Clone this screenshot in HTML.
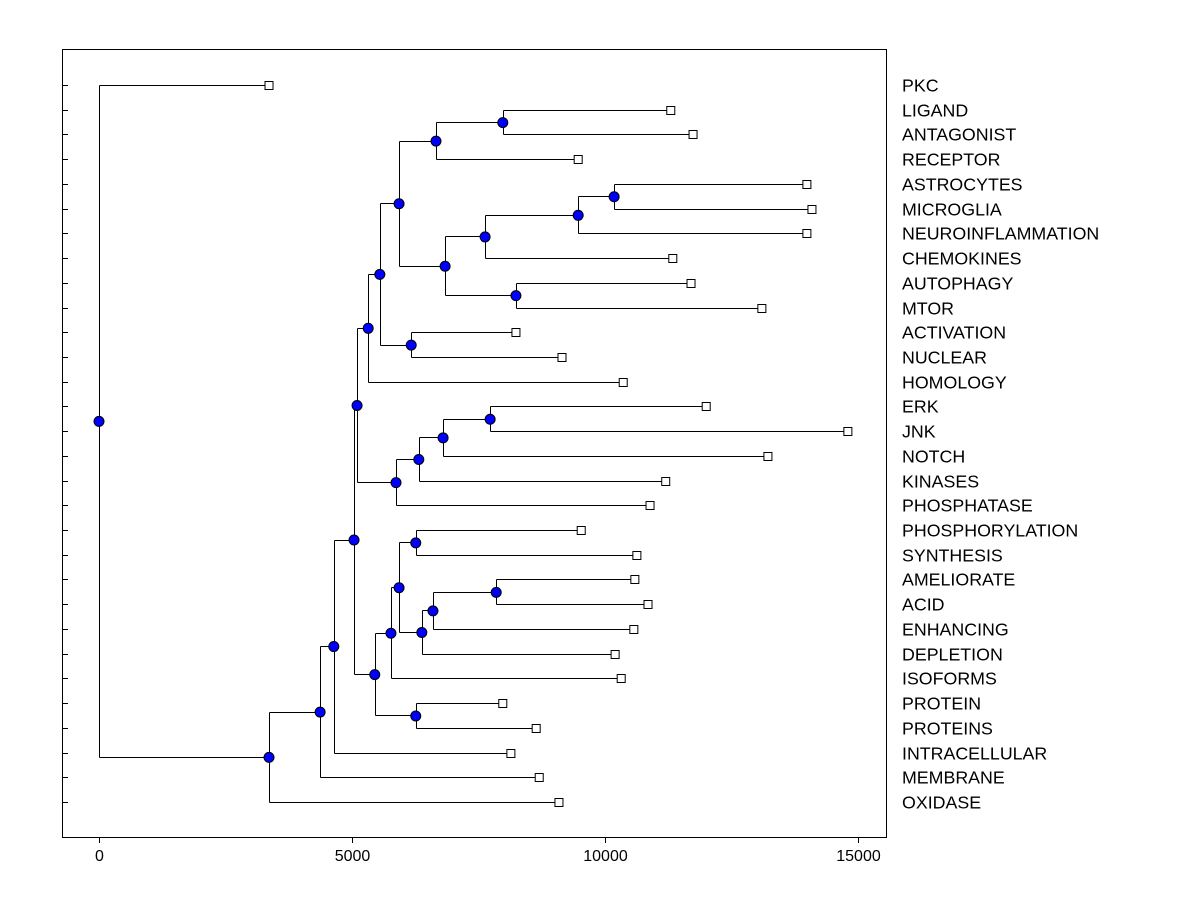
<!DOCTYPE html>
<html><head><meta charset="utf-8"><style>
body{margin:0;background:#fff}
svg{display:block}
text{font-family:"Liberation Sans",Arial,sans-serif;font-size:16px;fill:#000}
text.leaf{font-size:17.8px}
</style></head><body>
<svg id="chart" width="1200" height="900"></svg>
<script>
const leafNames=["PKC","LIGAND","ANTAGONIST","RECEPTOR","ASTROCYTES","MICROGLIA","NEUROINFLAMMATION","CHEMOKINES","AUTOPHAGY","MTOR","ACTIVATION","NUCLEAR","HOMOLOGY","ERK","JNK","NOTCH","KINASES","PHOSPHATASE","PHOSPHORYLATION","SYNTHESIS","AMELIORATE","ACID","ENHANCING","DEPLETION","ISOFORMS","PROTEIN","PROTEINS","INTRACELLULAR","MEMBRANE","OXIDASE"];
const leafValues=[3360,11300,11740,9470,13990,14090,13990,11340,11700,13100,8240,9150,10360,12000,14800,13220,11200,10890,9530,10630,10590,10850,10570,10200,10320,7980,8640,8140,8700,9090];
const nodeNames=["root","A","B","C","D","E","G","I","J","L","N","M","O","Q","R","P","K","H","S","T","U","F","V","X","Y","Z","AA","BB","W"];
const nodeLeft=["PKC","B","C","D","E","G","I","J","L","N","LIGAND","O","Q","R","ASTROCYTES","AUTOPHAGY","ACTIVATION","S","T","U","ERK","V","X","Y","PHOSPHORYLATION","AA","BB","AMELIORATE","PROTEIN"];
const nodeRight=["A","OXIDASE","MEMBRANE","INTRACELLULAR","F","H","HOMOLOGY","K","M","RECEPTOR","ANTAGONIST","P","CHEMOKINES","NEUROINFLAMMATION","MICROGLIA","MTOR","NUCLEAR","PHOSPHATASE","KINASES","NOTCH","JNK","W","ISOFORMS","Z","SYNTHESIS","DEPLETION","ENHANCING","ACID","PROTEINS"];
const nodeHeights=[0,3360,4370,4640,5040,5100,5320,5550,5930,6660,7980,6840,7630,9470,10180,8240,6170,5870,6320,6800,7730,5450,5770,5930,6260,6380,6600,7850,6260];
const xTicks=[0,5000,10000,15000];

const svg=document.getElementById('chart');
const NS='http://www.w3.org/2000/svg';
const x=v=>99+v*0.0506;
const y0=85,dy=(802-85)/(leafNames.length-1);
function el(t,a,p){const e=document.createElementNS(NS,t);for(const k in a)e.setAttribute(k,a[k]);(p||svg).appendChild(e);return e;}
const pos={};
leafNames.forEach((n,i)=>{pos[n]={x:x(leafValues[i]),y:y0+i*dy};});
function resolve(n){
  if(pos[n])return pos[n];
  const i=nodeNames.indexOf(n);
  const a=resolve(nodeLeft[i]),b=resolve(nodeRight[i]);
  pos[n]={x:x(nodeHeights[i]),y:(a.y+b.y)/2,a,b};
  return pos[n];
}
nodeNames.forEach(resolve);

const frame=el('rect',{x:62.5,y:49.5,width:824,height:788,fill:'none',stroke:'#000','stroke-width':1});


leafNames.forEach((n,i)=>{
  const yy=Math.round(y0+i*dy)+0.5;
  const t=el('line',{x1:62,y1:yy,x2:68,y2:yy,stroke:'#000'});
  
  
  const lb=el('text',{x:902,y:yy+6,'class':'leaf'});
  lb.textContent=n;
  
  
});
xTicks.forEach(v=>{
  const xx=Math.round(x(v))+0.5;
  const t=el('line',{x1:xx,y1:837,x2:xx,y2:843,stroke:'#000'});
  
  
  const lb=el('text',{x:xx,y:861,'text-anchor':'middle'});
  lb.textContent=v;
  
  
});
nodeNames.forEach(n=>{
  const p=pos[n];
  const px=Math.round(p.x)+0.5;
  const d=`M${px},${Math.round(p.a.y)+0.5}V${Math.round(p.b.y)+0.5}M${px},${Math.round(p.a.y)+0.5}H${p.a.x}M${px},${Math.round(p.b.y)+0.5}H${p.b.x}`;
  const l=el('path',{d,fill:'none',stroke:'#000','stroke-width':1});
  
  
});
leafNames.forEach(n=>{
  const p=pos[n];
  const r=el('rect',{x:p.x-4,y:Math.round(p.y)-3.5,width:8,height:8,fill:'#fff',stroke:'#000'});
  
  
});
nodeNames.forEach(n=>{
  const p=pos[n];
  const c=el('circle',{cx:p.x,cy:p.y+0.5,r:5,fill:'#0000ff',stroke:'#000'});
  
  
});
</script>
</body></html>
